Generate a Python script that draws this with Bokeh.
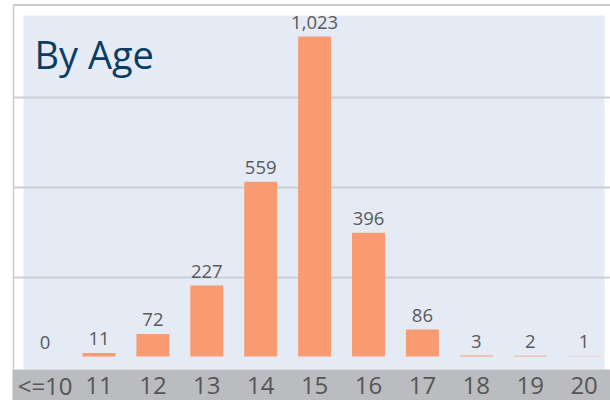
from bokeh.plotting import figure
from bokeh.models import ColumnDataSource, Range1d
from bokeh.core.properties import value
from bokeh.embed import file_html
from bokeh.resources import INLINE

# ---- data ----
ages = ["<=10", "11", "12", "13", "14", "15", "16", "17", "18", "19", "20"]
counts = [0, 11, 72, 227, 559, 1023, 396, 86, 3, 2, 1]
title_text = "By Age"

# ---- layout helpers (figure pixels -> data units) ----
W, H = 610, 400
PPX = 53.9            # pixels per category
X0 = -0.8275          # data x at left frame edge
K = 0.3128            # pixels per count
BASE = 356            # figure-pixel y of bar baseline


def dx(fx):
    return X0 + fx / PPX


def dy(fy):
    return (BASE - fy) / K


p = figure(width=W, height=H, output_backend="svg", toolbar_location=None,
           x_axis_location=None, y_axis_location=None,
           x_range=Range1d(dx(0), dx(W)), y_range=Range1d(dy(H), dy(0)),
           min_border=0, outline_line_color=None,
           background_fill_color="white", border_fill_color="white")
p.grid.visible = False

FONT = value("Open Sans")

# light blue panel
p.quad(left=[dx(23)], right=[dx(604)], top=[dy(15)], bottom=[dy(369)],
       fill_color="#E4EBF5", line_color=None)

# frame lines (top and left)
p.segment(x0=[dx(13)], y0=[dy(4.5)], x1=[dx(W)], y1=[dy(4.5)],
          line_color="#CCCCCC", line_width=2)
p.segment(x0=[dx(13)], y0=[dy(4)], x1=[dx(13)], y1=[dy(369)],
          line_color="#CCCCCC", line_width=1.5)

# horizontal gridlines
grid_y = [dy(97), dy(187), dy(277)]
p.segment(x0=[dx(13)] * 3, y0=grid_y, x1=[dx(W)] * 3, y1=grid_y,
          line_color="#CBCFD5", line_width=2)

# bars
idx = list(range(len(ages)))
src = ColumnDataSource(dict(x=idx, top=counts,
                            label=["{:,}".format(c) for c in counts],
                            cat=ages))
p.vbar(x="x", top="top", bottom=0, width=0.612, source=src,
       fill_color="#F99B72", line_color=None)

# value labels
p.text(x="x", y="top", text="label", source=src, y_offset=-14.4,
       text_align="center", text_baseline="alphabetic",
       text_font=FONT, text_font_size="18.5px", text_color="#595959")

# category band
p.quad(left=[dx(12)], right=[dx(W)], top=[dy(369)], bottom=[dy(H)],
       fill_color="#BBBCBF", line_color=None)
p.text(x="x", y=dy(384.5), text="cat", source=src,
       text_align="center", text_baseline="alphabetic",
       text_font=FONT, text_font_size="24px", text_color="#555555")

# title
p.text(x=[dx(34)], y=[dy(53.3)], text=[title_text],
       text_align="left", text_baseline="alphabetic",
       text_font=FONT, text_font_size="38px", text_color="#0B3D63")

open("out.html", "w").write(file_html(p, INLINE))
